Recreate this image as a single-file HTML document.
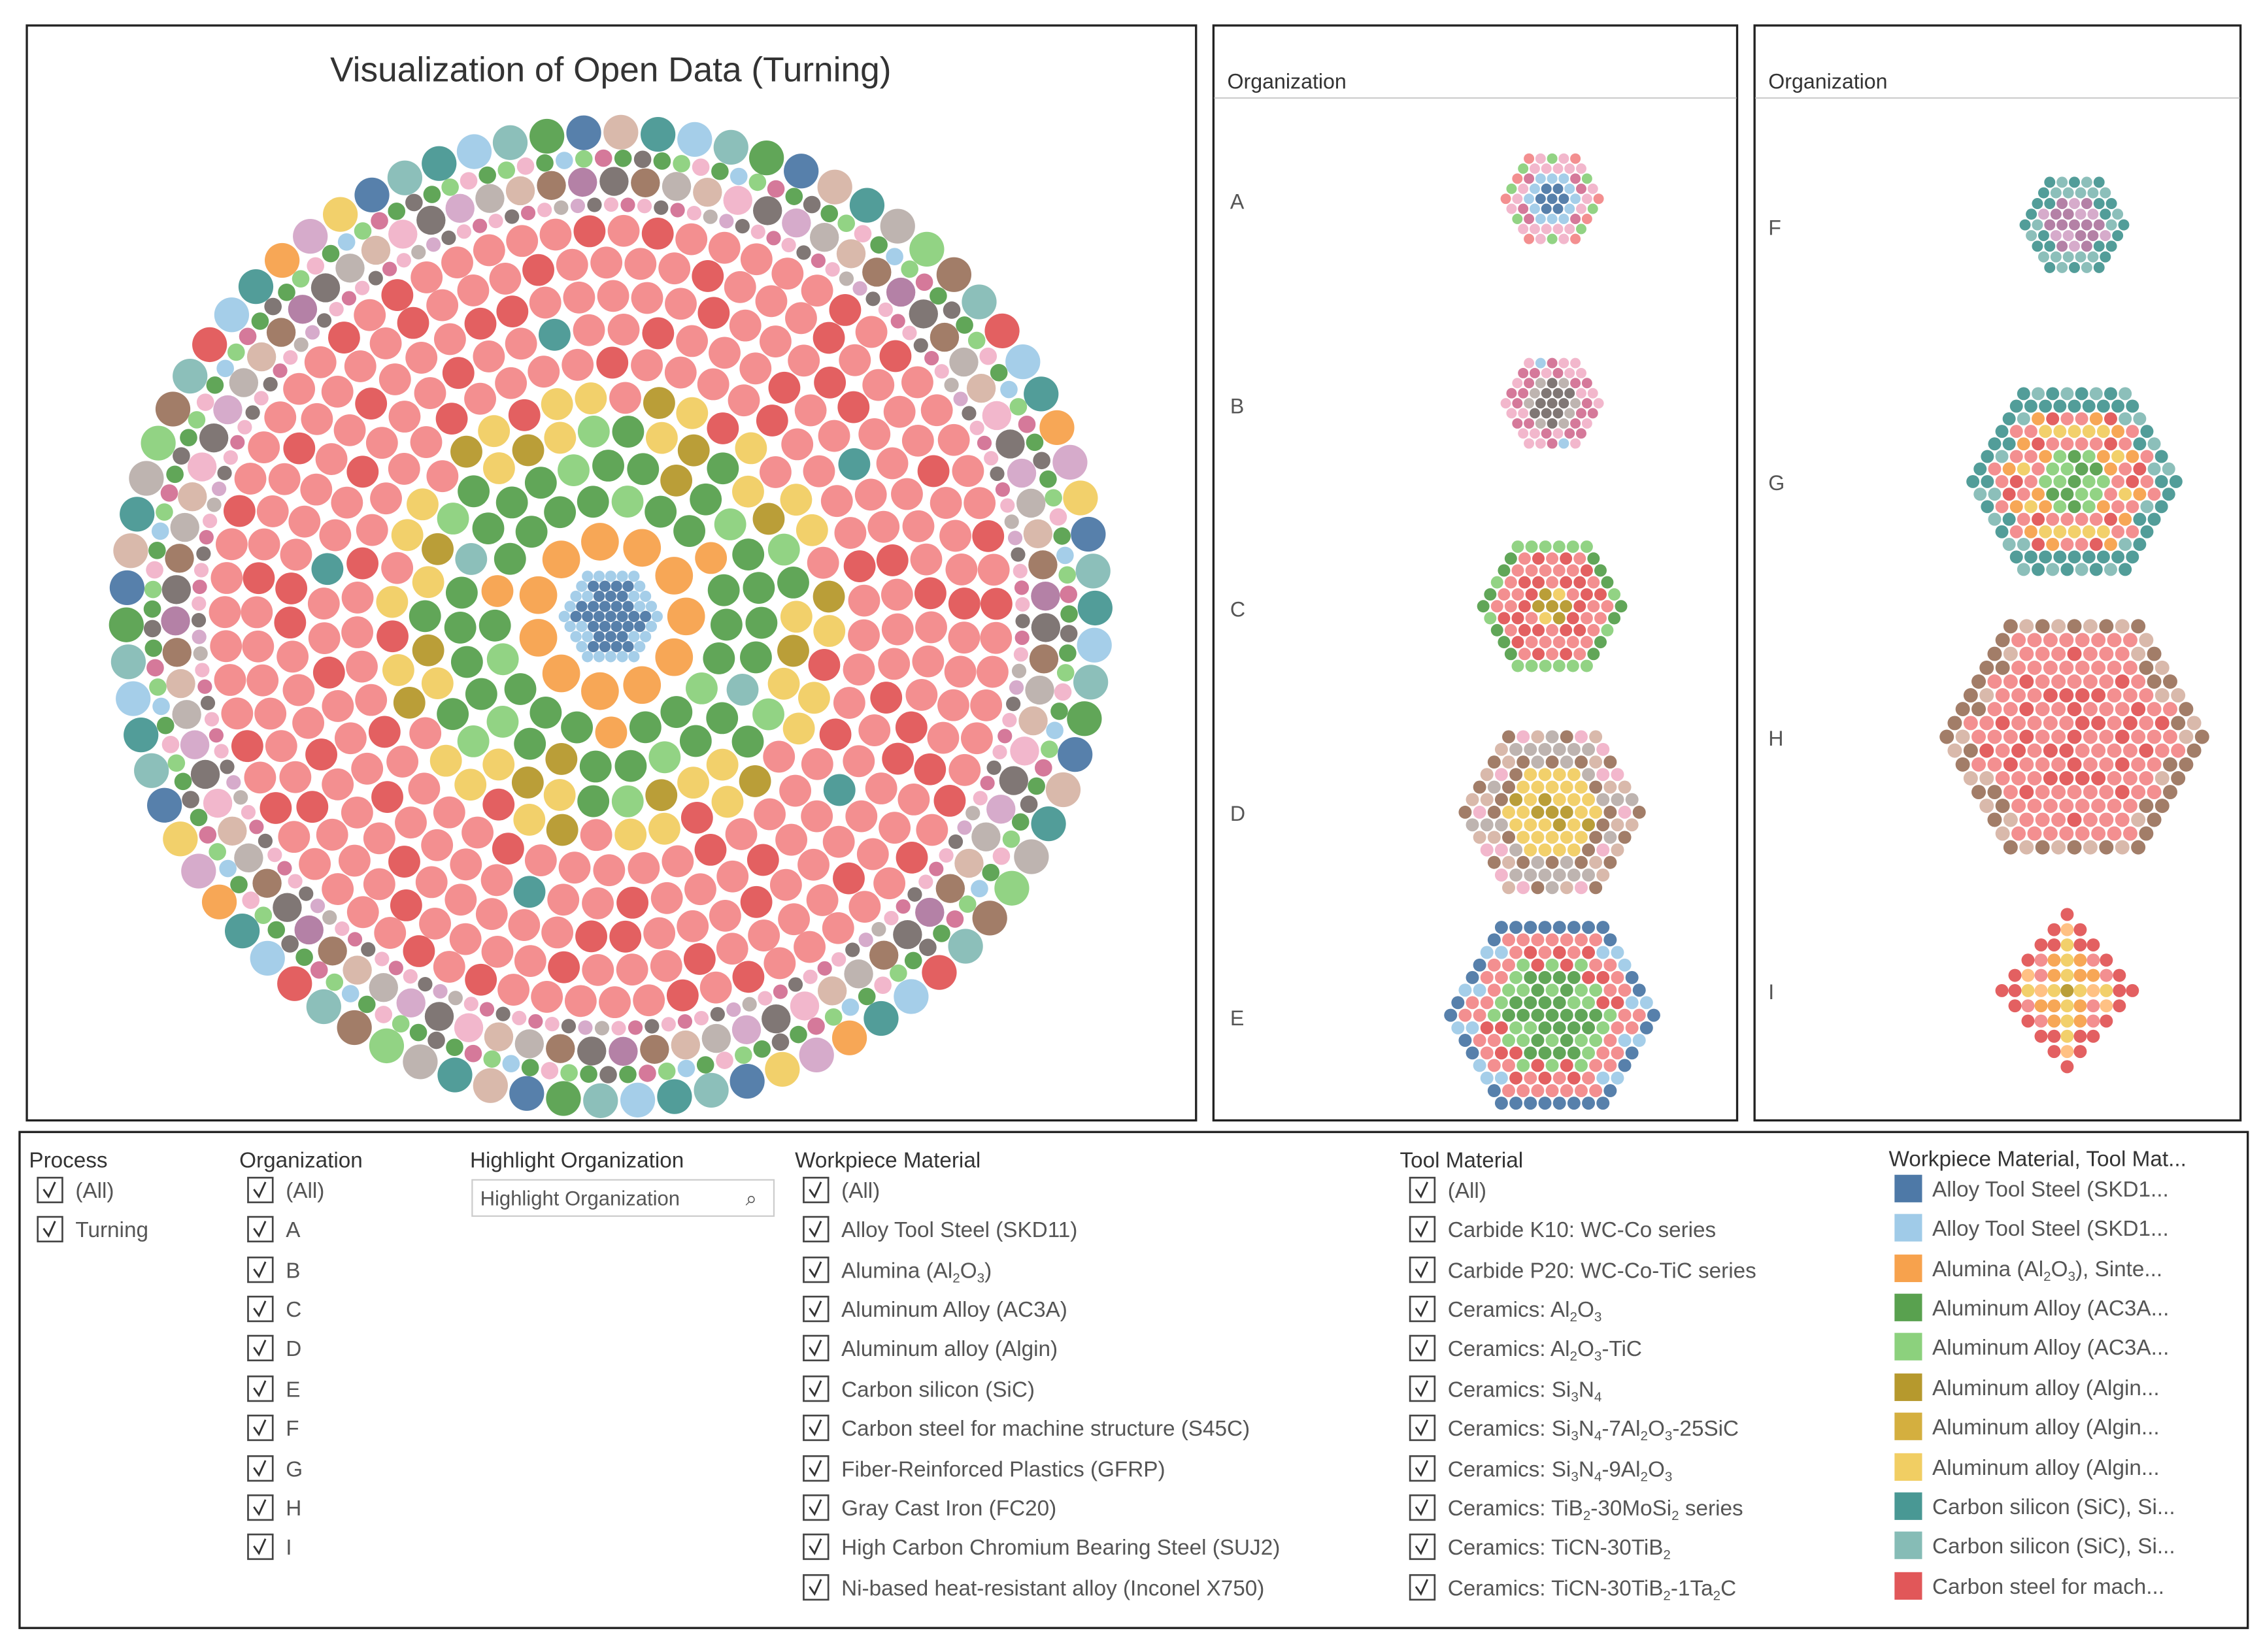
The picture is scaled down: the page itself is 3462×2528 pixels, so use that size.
<!DOCTYPE html>
<html><head><meta charset="utf-8"><style>
html,body{margin:0;padding:0;background:#fff}
svg{display:block}
text{font-family:"Liberation Sans","DejaVu Sans",sans-serif}
</style></head><body>
<svg id="root" width="3462" height="2528" viewBox="0 0 1560 1139" xmlns="http://www.w3.org/2000/svg">
<rect x="18.5" y="17.5" width="806" height="755" fill="#fff" stroke="#222" stroke-width="1.5"/>
<text x="421" y="56" font-size="24" text-anchor="middle" fill="#333">Visualization of Open Data (Turning)</text>
<g id="mainChart"></g>
<rect x="836.5" y="17.5" width="361" height="755" fill="none" stroke="#222" stroke-width="1.5"/>
<text x="846" y="61" font-size="14.5" fill="#333">Organization</text>
<line x1="837" y1="67.5" x2="1197" y2="67.5" stroke="#ccc" stroke-width="1"/>
<rect x="1209.5" y="17.5" width="335" height="755" fill="none" stroke="#222" stroke-width="1.5"/>
<text x="1219" y="61" font-size="14.5" fill="#333">Organization</text>
<line x1="1210" y1="67.5" x2="1544" y2="67.5" stroke="#ccc" stroke-width="1"/>
<g id="orgCharts"></g>
<rect x="13.5" y="780.5" width="1536" height="342" fill="none" stroke="#222" stroke-width="1.5"/>
<g id="filters"></g>
</svg>
<script>
const NS="http://www.w3.org/2000/svg";
const palette=["#4e79a7","#a0cbe8","#f7a24d","#ffbe7d","#59a14f","#8cd17d","#b6992d","#f1ce63","#499894","#86bcb6","#e15759","#f2898a","#79706e","#bab0ac","#d37295","#f1b3c9","#b07aa1","#d4a6c8","#9d7660","#d7b5a6"];

// ---- main chart data: category pattern per ring (center outward) ----
const centerInner=[0];
const centerOuter=[1];
const ringOrange=[2,2,2,2,2,2,2,2,2,2,2,2,2,4];
const ringGreen1=[4,5,4,4,2,4,4,4,5,4,2,4,4,4];
const ringGreen2=[4,4,5,4,4,6,4,5,4,4,4,4,9,4];
const ringYellow1=[7,6,5,4,7,6,7,5,4,7,6,4];
const ringYellow2=[7,11,6,7,10,7,7,11,6,7,10,7,11,7];
const ringRed1=[11,10,11,11,11,11,10,11,11,11];
const ringRed2=[11,11,10,11,11,11,10,11,11,8];
const ringRed3=[11,10,11,11,11,10,10,11,11,11,11];
const ringRed4=[11,11,11,10,11,11,11,10,11];
const ringRed5=[11,10,11,11,11,11,11,10];
const ringSmall=[15,12,14,15,13,17,12,15,14];
const ringMixed1=[13,19,15,12,17,13,19,18,16,12,18];
const ringDots=[4,5,15,4,1,5,14,4,12];
const ringOuter=[8,1,9,4,0,19,8,13,5,18,9,10,1,8,2,17,7,0,9];

const mainLayout=[
 [ringOrange,52,13],[ringGreen1,80,11],[ringGreen2,104,11],[ringYellow1,128,11],[ringYellow2,151,11],
 [ringRed1,175,11],[ringRed2,198,11],[ringRed3,221,11],[ringRed4,244,11],[ringRed5,266,11],
 [ringSmall,284,5],[ringMixed1,300,10],[ringDots,316,6],[ringOuter,334,12]
];
const mg=document.getElementById('mainChart');
const CX=421,CY=425;
function circ(g,x,y,r,cat,name){
  const c=document.createElementNS(NS,'circle');
  c.setAttribute('cx',x.toFixed(1));c.setAttribute('cy',y.toFixed(1));c.setAttribute('r',r);
  c.setAttribute('fill',palette[cat]);c.setAttribute('fill-opacity','0.95');
  
  
  g.appendChild(c);
}
function hexPack(g,cx,cy,d,ringPats,r,name){
  const N=ringPats.length-1;
  for(let q=-N;q<=N;q++)for(let s=-N;s<=N;s++){
    const k=Math.max(Math.abs(q),Math.abs(s),Math.abs(q+s));
    if(k>N)continue;
    const pat=ringPats[k];
    const idx=Math.abs(q*3+s*5);
    const x=cx+d*(q+s/2), y=cy+d*s*Math.sqrt(3)/2;
    circ(g,x,y,r,pat[idx%pat.length],name);
  }
}
hexPack(mg,CX,CY,8,[centerInner,centerInner,centerInner,[0,1,0],centerOuter],3.9,'center-bubble');
mainLayout.forEach((L,i)=>{
  const [pat,R,s]=L;
  const n=Math.floor(2*Math.PI*R/(2*s+1.5));
  const off=i*0.37;
  for(let j=0;j<n;j++){
    const a=off+j*2*Math.PI/n;
    circ(mg,CX+R*Math.cos(a),CY+R*Math.sin(a),s,pat[j%pat.length],'bubble');
  }
});

// ---- organization hex charts ----
const orgNames=["A","B","C","D","E","F","G","H","I"];
const orgA=[[0],[0],[1],[15,14,15],[11,15,5,15]];
const orgB=[[12],[12],[13,12],[15,14],[15,1,14,15]];
const orgC=[[6],[7,6],[10,11],[11,10,11],[11,10],[4,5,4]];
const orgD=[[6],[7,6],[7],[7,7,6],[18,13],[15,13,19],[19,13,18,15]];
const orgE=[[4],[4],[4,5],[4,5,4],[5,10],[10,11],[11,1,11],[0,1,0]];
const orgF=[[16],[17,16],[16,17],[9,8,17],[8,9]];
const orgG=[[4],[4,5],[5,4],[11,2,11],[10,11,7],[11,2,10,11],[8,9,11],[9,8]];
const orgH=[[10],[10,11],[11,10],[10,11,11],[11,10,11],[11,11,10],[11,10,11,11],[19,18,11],[18,19]];
const orgI=[[6],[2,7],[3,7,2],[7,2,11],[10,11,3],[10]];
const orgData=[orgA,orgB,orgC,orgD,orgE,orgF,orgG,orgH,orgI];
const orgPos=[[1070,137,8,848,144],[1070,278,8,848,285],[1070,418,9.5,848,425],[1070,560,10,848,566],[1070,700,10,848,707],
 [1430,155,8.5,1219,162],[1430,332,10,1219,338],[1430,508,11,1219,514],[1425,683,10,1219,689]];
const og=document.getElementById('orgCharts');
orgData.forEach((d,i)=>{
  const [cx,cy,sp,lx,ly]=orgPos[i];
  const g=document.createElementNS(NS,'g');
  
  
  og.appendChild(g);
  if(orgNames[i]==="I"){
    const N=d.length-1;
    for(let a=-N;a<=N;a++)for(let b=-N;b<=N;b++){
      const k=Math.abs(a)+Math.abs(b); if(k>N)continue;
      const pat=d[k];
      circ(g,cx+a*sp*0.9,cy+b*sp*1.05,sp*0.45,pat[Math.abs(a*3+b*5)%pat.length],'org-bubble');
    }
  } else hexPack(g,cx,cy,sp,d,sp*0.45,'org-bubble');
  const t=document.createElementNS(NS,'text');
  t.setAttribute('x',lx);t.setAttribute('y',ly);t.setAttribute('font-size','14.5');t.setAttribute('fill','#555');
  t.textContent=orgNames[i];
  
  
  og.appendChild(t);
});

// ---- filters ----
const fg=document.getElementById('filters');
const rowY=[826,853,881,908,935,963,990,1018,1045,1072,1100];
function txt(x,y,s,size,fill,name){
  const t=document.createElementNS(NS,'text');
  t.setAttribute('x',x);t.setAttribute('y',y);t.setAttribute('font-size',size);t.setAttribute('fill',fill);
  const parts=s.split(/(_[0-9])/);
  parts.forEach(p=>{
    if(!p)return;
    const ts=document.createElementNS(NS,'tspan');
    if(p[0]==='_'&&p.length===2){ts.setAttribute('font-size',size*0.62);ts.setAttribute('baseline-shift','-3');ts.textContent=p[1];}
    else ts.textContent=p;
    t.appendChild(ts);
  });
  
  
  fg.appendChild(t);
}
function checkItem(bx,tx,y,label,name){
  const g=document.createElementNS(NS,'g');
  
  
  const r=document.createElementNS(NS,'rect');
  r.setAttribute('x',bx);r.setAttribute('y',y-14);r.setAttribute('width',17);r.setAttribute('height',17);
  r.setAttribute('fill','#fff');r.setAttribute('stroke','#444');r.setAttribute('stroke-width','1.2');
  g.appendChild(r);
  const p=document.createElementNS(NS,'path');
  p.setAttribute('d',`M${bx+4} ${y-6} L${bx+7.5} ${y-1} L${bx+12} ${y-11}`);
  p.setAttribute('fill','none');p.setAttribute('stroke','#333');p.setAttribute('stroke-width','1.3');
  g.appendChild(p);
  fg.appendChild(g);
  txt(tx,y,label,15,'#555',name+'-label');
}
txt(20,805,'Process',15,'#333','process-title');
['(All)','Turning'].forEach((l,i)=>checkItem(26,52,rowY[i],l,'process-checkbox'));
txt(165,805,'Organization',15,'#333','organization-title');
['(All)','A','B','C','D','E','F','G','H','I'].forEach((l,i)=>checkItem(171,197,rowY[i],l,'organization-checkbox'));
txt(324,805,'Highlight Organization',15,'#333','highlight-title');
const inp=document.createElementNS(NS,'rect');
inp.setAttribute('x',325.5);inp.setAttribute('y',813.5);inp.setAttribute('width',208);inp.setAttribute('height',25);
inp.setAttribute('fill','#fff');inp.setAttribute('stroke','#ccc');


fg.appendChild(inp);
txt(331,831,'Highlight Organization',14,'#555','highlight-placeholder');
txt(514,831,'⌕',14,'#555','search-icon');
txt(548,805,'Workpiece Material',15,'#333','workpiece-title');
['(All)','Alloy Tool Steel (SKD11)','Alumina (Al_2O_3)','Aluminum Alloy (AC3A)','Aluminum alloy (Algin)','Carbon silicon (SiC)','Carbon steel for machine structure (S45C)','Fiber-Reinforced Plastics (GFRP)','Gray Cast Iron (FC20)','High Carbon Chromium Bearing Steel (SUJ2)','Ni-based heat-resistant alloy (Inconel X750)']
 .forEach((l,i)=>checkItem(554,580,rowY[i],l,'workpiece-checkbox'));
txt(965,805,'Tool Material',15,'#333','tool-title');
['(All)','Carbide K10: WC-Co series','Carbide P20: WC-Co-TiC series','Ceramics: Al_2O_3','Ceramics: Al_2O_3-TiC','Ceramics: Si_3N_4','Ceramics: Si_3N_4-7Al_2O_3-25SiC','Ceramics: Si_3N_4-9Al_2O_3','Ceramics: TiB_2-30MoSi_2 series','Ceramics: TiCN-30TiB_2','Ceramics: TiCN-30TiB_2-1Ta_2C']
 .forEach((l,i)=>checkItem(972,998,rowY[i],l,'tool-checkbox'));
txt(1302,804,'Workpiece Material, Tool Mat...',15,'#333','legend-title');
const legendLabels=['Alloy Tool Steel (SKD1...','Alloy Tool Steel (SKD1...','Alumina (Al_2O_3), Sinte...','Aluminum Alloy (AC3A...','Aluminum Alloy (AC3A...','Aluminum alloy (Algin...','Aluminum alloy (Algin...','Aluminum alloy (Algin...','Carbon silicon (SiC), Si...','Carbon silicon (SiC), Si...','Carbon steel for mach...'];
const legendColors=[0,1,2,4,5,6,"#d4af3f",7,8,9,10];
legendLabels.forEach((l,i)=>{
  const r=document.createElementNS(NS,'rect');
  const y=rowY[i]-1;
  r.setAttribute('x',1306);r.setAttribute('y',y-15);r.setAttribute('width',19);r.setAttribute('height',19);
  const c=legendColors[i];
  r.setAttribute('fill',typeof c==='number'?palette[c]:c);
  
  
  fg.appendChild(r);
  txt(1332,y,l,15,'#555','legend-entry');
});
</script>
</body></html>
